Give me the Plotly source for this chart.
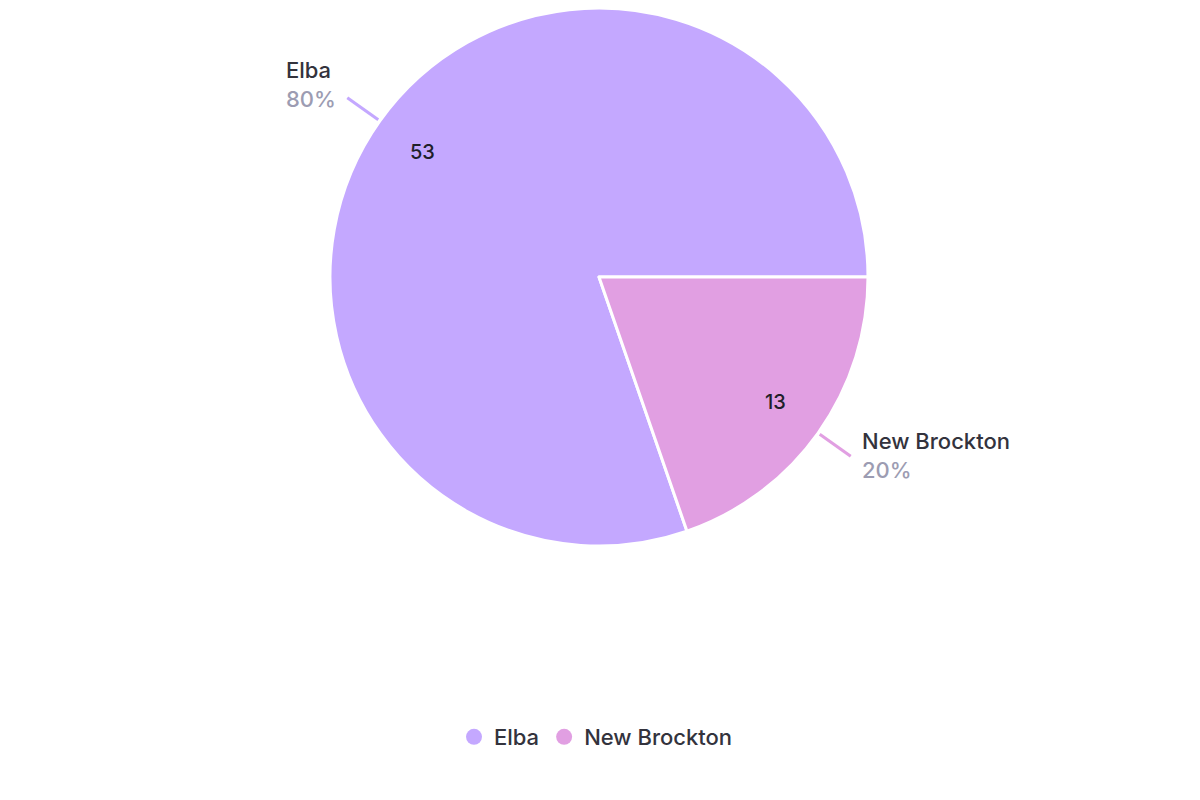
import math
import plotly.graph_objects as go

labels = ["Elba", "New Brockton"]
values = [53, 13]
colors = ["#c4a8ff", "#e19fe2"]

W, H = 1200, 800
cx, cy, R = 591, 269, 269  # pie centre / radius in figure pixels

total = sum(values)
rotation = 90 + 360 * values[1] / total  # so that the second slice starts at 3 o'clock

FONT = "Inter"
fig = go.Figure()
fig.add_trace(go.Pie(
    labels=labels, values=values, sort=False, direction="clockwise",
    rotation=rotation,
    marker=dict(colors=colors, line=dict(color="white", width=3)),
    textinfo="none",
    showlegend=False, hoverinfo="label+value+percent",
    domain=dict(x=[(cx - R) / W, (cx + R) / W],
                y=[max(0, 1 - (cy + R) / H), min(1, 1 - (cy - R) / H)]),
))

# legend via dummy scatter traces (circle markers)
for lab, col in zip(labels, colors):
    fig.add_trace(go.Scatter(x=[None], y=[None], mode="markers", name=lab,
                             marker=dict(color=col, size=22, symbol="circle")))

start = rotation
for i, (lab, v) in enumerate(zip(labels, values)):
    span = 360 * v / total
    mid = math.radians(start + span / 2)
    start += span
    dx, dy = math.sin(mid), -math.cos(mid)
    # value label inside the slice
    fig.add_annotation(xref="paper", yref="paper",
                       x=(cx + dx * 0.805 * R) / W, y=1 - (cy + dy * 0.8 * R) / H,
                       text=str(v), showarrow=False, xanchor="center", yanchor="middle",
                       font=dict(size=20, family=FONT, color="#1f1f2a", weight=500))
    # leader line
    x0, y0 = cx + dx * (R + 2), cy + dy * (R + 2)
    x1, y1 = cx + dx * (R + 40), cy + dy * (R + 40)
    fig.add_shape(type="line", xref="paper", yref="paper",
                  x0=x0 / W, y0=1 - y0 / H, x1=x1 / W, y1=1 - y1 / H,
                  line=dict(color=colors[i], width=3))
    # outside label + percent
    pct = round(100 * v / total)
    left_side = dx < 0
    fig.add_annotation(
        xref="paper", yref="paper",
        x=(x1 + (-9 if left_side else 9)) / W,
        y=1 - (y1 + (-13 if left_side else -1)) / H,
        xanchor="right" if left_side else "left", yanchor="middle", align="left",
        showarrow=False,
        text=f"<span style='color:#33333d'>{lab}</span><br><span style='color:#9c9cb2'>{pct}%</span>",
        font=dict(size=22, family=FONT, weight=500),
    )

fig.update_layout(
    width=W, height=H,
    margin=dict(l=0, r=0, t=0, b=0),
    paper_bgcolor="white", plot_bgcolor="white",
    xaxis=dict(visible=False), yaxis=dict(visible=False),
    legend=dict(orientation="h", x=588 / W, xanchor="center", y=1 - 729 / H, yanchor="middle",
                font=dict(size=22, family=FONT, color="#33333d", weight=500),
                itemsizing="trace"),
    font=dict(family=FONT),
)

fig.write_html("out.html")
